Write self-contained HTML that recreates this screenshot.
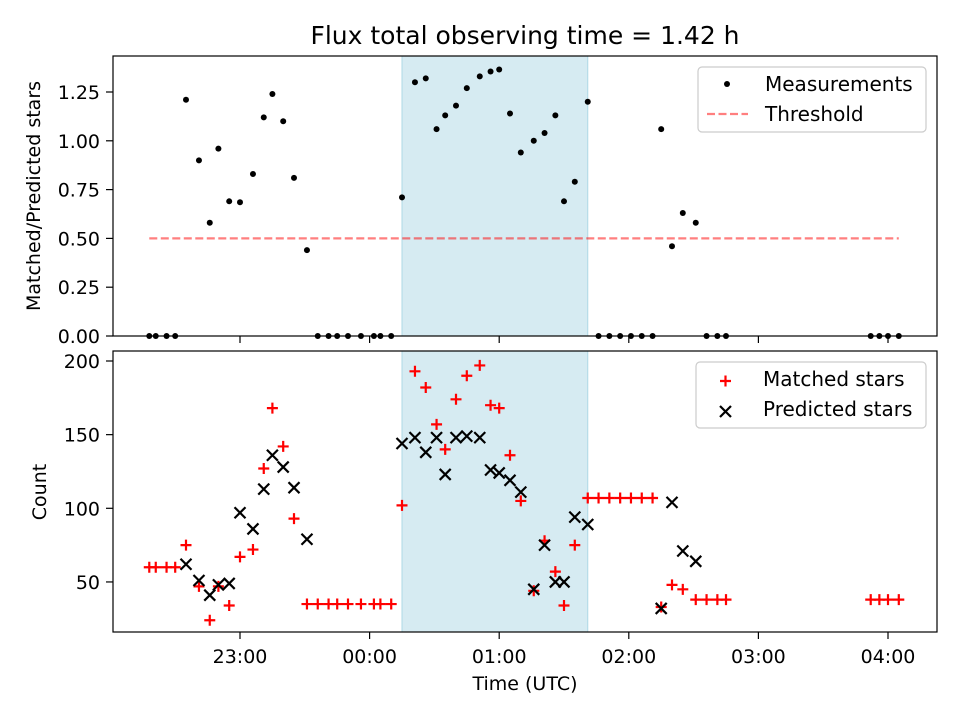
<!DOCTYPE html>
<html><head><meta charset="utf-8"><style>
body{margin:0;background:#fff}
svg{display:block;font-family:"DejaVu Sans","Liberation Sans",sans-serif}
</style></head><body>
<svg id="c" width="960" height="720" viewBox="0 0 960 720"></svg>
<script>
const times=[18,21,26,30,35,41,46,50,55,60,66,71,75,80,85,91,96,101,105,110,116,122,125,130,135,141,146,151,155,160,165,171,176,180,185,190,196,201,206,210,215,221,226,231,236,241,246,251,255,260,265,271,276,281,285,352,356,360,365];
const ratio=[0,0,0,0,1.21,0.90,0.58,0.96,0.69,0.685,0.83,1.12,1.24,1.10,0.81,0.44,0,0,0,0,0,0,0,0,0.71,1.30,1.32,1.06,1.13,1.18,1.27,1.33,1.355,1.365,1.14,0.94,1.00,1.04,1.13,0.69,0.79,1.20,0,0,0,0,0,0,1.06,0.46,0.63,0.58,0,0,0,0,0,0,0];
const matched=[60,60,60,60,75,47,24,47,34,67,72,127,168,142,93,35,35,35,35,35,35,35,35,35,102,193,182,157,140,174,190,197,170,168,136,105,44,78,57,34,75,107,107,107,107,107,107,107,33,48,45,38,38,38,38,38,38,38,38];
const predicted=[null,null,null,null,62,51,41,48,49,97,86,113,136,128,114,79,null,null,null,null,null,null,null,null,144,148,138,148,123,148,149,148,126,124,119,111,45,75,50,50,94,89,null,null,null,null,null,null,32,104,71,64,null,null,null,null,null,null,null];
const threshold=0.5;
const spanStart=135, spanEnd=221;
const xTickMin=[60,120,180,240,300,360];
const xTickLabels=["23:00","00:00","01:00","02:00","03:00","04:00"];
const topTicks=[0,0.25,0.5,0.75,1.0,1.25];
const topTickLabels=["0.00","0.25","0.50","0.75","1.00","1.25"];
const botTicks=[50,100,150,200];
const botTickLabels=["50","100","150","200"];

const NS="http://www.w3.org/2000/svg";
const svg=document.getElementById('c');
function el(t,a,p){const e=document.createElementNS(NS,t);for(const k in a)e.setAttribute(k,a[k]);(p||svg).appendChild(e);return e;}
const L=113,R=937,FS=19;
const X=m=>110.4+m*2.16;
const Yt=v=>336-v*195.2;
const Yb=v=>361+(200-v)*1.473;

function axes(name){
  const g=el('g',{});
  
  
  return g;
}
// top panel
const gt=axes('top-panel');
const sp1=el('rect',{x:X(spanStart),y:56,width:X(spanEnd)-X(spanStart),height:280,fill:'#add8e6','fill-opacity':0.5,stroke:'#add8e6'},gt);


const th=el('line',{x1:X(times[0]),x2:X(times[times.length-1]),y1:Yt(threshold),y2:Yt(threshold),stroke:'#ff0000','stroke-opacity':0.5,'stroke-width':2.2,'stroke-dasharray':'8,3.5'},gt);


ratio.forEach((v,i)=>{
  const c=el('circle',{cx:X(times[i]),cy:Yt(v),r:3,fill:'#000'},gt);
  
  
});
el('rect',{x:L,y:56,width:R-L,height:280,fill:'none',stroke:'#000','stroke-width':1.2},gt);
topTicks.forEach((v,i)=>{
  el('line',{x1:L-7,x2:L,y1:Yt(v),y2:Yt(v),stroke:'#000','stroke-width':1.2},gt);
  const t=el('text',{x:L-13,y:Yt(v)+7,'font-size':FS,'text-anchor':'end'},gt);t.textContent=topTickLabels[i];
  
  
});
xTickMin.forEach(m=>el('line',{x1:X(m),x2:X(m),y1:336,y2:343,stroke:'#000','stroke-width':1.2},gt));

// bottom panel
const gb=axes('bottom-panel');
const sp2=el('rect',{x:X(spanStart),y:351,width:X(spanEnd)-X(spanStart),height:281,fill:'#add8e6','fill-opacity':0.5,stroke:'#add8e6'},gb);


matched.forEach((v,i)=>{
  const x=X(times[i]),y=Yb(v);
  const p=el('path',{d:`M${x-5.5} ${y}H${x+5.5}M${x} ${y-5.5}V${y+5.5}`,stroke:'#f00','stroke-width':2.2},gb);
  
  
});
predicted.forEach((v,i)=>{
  if(v===null)return;
  const x=X(times[i]),y=Yb(v);
  const p=el('path',{d:`M${x-5.5} ${y-5.5}L${x+5.5} ${y+5.5}M${x-5.5} ${y+5.5}L${x+5.5} ${y-5.5}`,stroke:'#000','stroke-width':2.2},gb);
  
  
});
el('rect',{x:L,y:351,width:R-L,height:281,fill:'none',stroke:'#000','stroke-width':1.2},gb);
botTicks.forEach((v,i)=>{
  el('line',{x1:L-7,x2:L,y1:Yb(v),y2:Yb(v),stroke:'#000','stroke-width':1.2},gb);
  const t=el('text',{x:L-13,y:Yb(v)+7,'font-size':FS,'text-anchor':'end'},gb);t.textContent=botTickLabels[i];
  
  
});
xTickMin.forEach((m,i)=>{
  el('line',{x1:X(m),x2:X(m),y1:632,y2:639,stroke:'#000','stroke-width':1.2},gb);
  const t=el('text',{x:X(m),y:663,'font-size':FS,'text-anchor':'middle'},gb);t.textContent=xTickLabels[i];
  
  
});
</script>
<svg width="960" height="720" style="position:absolute;left:0;top:0">
<text x="525" y="44" font-size="25" text-anchor="middle">Flux total observing time = 1.42 h</text>
<text transform="translate(40,196) rotate(-90)" font-size="19" text-anchor="middle">Matched/Predicted stars</text>
<text transform="translate(46,492) rotate(-90)" font-size="19" text-anchor="middle">Count</text>
<text x="525" y="690" font-size="19" text-anchor="middle">Time (UTC)</text>
<g>
<rect x="698" y="67" width="228" height="65" rx="4" fill="#fff" fill-opacity="0.8" stroke="#ccc" stroke-width="1.2"/>
<circle cx="727" cy="84" r="3" fill="#000"/>
<text x="765" y="91" font-size="20">Measurements</text>
<line x1="707" x2="748" y1="114" y2="114" stroke="#f00" stroke-opacity="0.5" stroke-width="2.2" stroke-dasharray="8,3.5"/>
<text x="765" y="121" font-size="20">Threshold</text>
</g>
<g>
<rect x="696" y="362" width="230" height="66" rx="4" fill="#fff" fill-opacity="0.8" stroke="#ccc" stroke-width="1.2"/>
<path d="M720 381H731M725.5 375.5V386.5" stroke="#f00" stroke-width="2.2"/>
<text x="763" y="386" font-size="20">Matched stars</text>
<path d="M720 406L731 417M720 417L731 406" stroke="#000" stroke-width="2.2"/>
<text x="763" y="416" font-size="20">Predicted stars</text>
</g>
</svg>
</body></html>
